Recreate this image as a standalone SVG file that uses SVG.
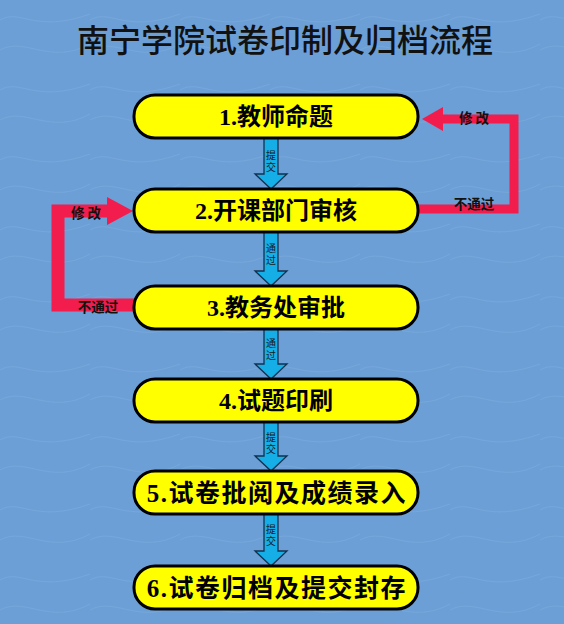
<svg xmlns="http://www.w3.org/2000/svg" width="564" height="624" viewBox="0 0 564 624">
<defs>
<style>
.bg{fill:#6c9fd6}
.node rect{fill:#ffff00;stroke:#000;stroke-width:3}
.node text{font-family:"Liberation Serif","Noto Sans CJK SC",serif;font-weight:bold;font-size:24px;fill:#000;text-anchor:middle;dominant-baseline:central}
.flow{fill:#16aee6;stroke:#14304f;stroke-width:1.3;stroke-linejoin:miter}
.flab{font-family:"Noto Sans CJK SC",sans-serif;font-size:10px;fill:#1a1a1a;writing-mode:vertical-rl;text-anchor:start;dominant-baseline:central;letter-spacing:2px}
.back{fill:none;stroke:#f21d4c;stroke-linejoin:miter}
.head{fill:#f21d4c}
.rlab{font-family:"Noto Sans CJK SC",sans-serif;font-weight:bold;font-size:13.5px;fill:#111;text-anchor:middle;dominant-baseline:central}
.title{font-family:"Noto Sans CJK SC",sans-serif;font-weight:500;font-size:32px;fill:#111;text-anchor:middle;dominant-baseline:central}
</style>
<pattern id="tex" width="90" height="70" patternUnits="userSpaceOnUse">
<path d="M0,20 C20,8 35,34 90,14 M0,50 C25,36 50,66 90,44" fill="none" stroke="#86b4e2" stroke-width="1" opacity="0.35"/>
</pattern>
</defs>
<rect class="bg" x="0" y="0" width="564" height="624"/>
<rect x="0" y="0" width="564" height="624" fill="url(#tex)"/>
<text class="title" x="285" y="38">南宁学院试卷印制及归档流程</text>

<g id="connectors">
<path class="flow" d="M264,138 L278,138 L278,174 L287,174 L271,189 L255,174 L264,174 Z"/>
<text class="flab" x="271" y="150">提交</text>
<path class="flow" d="M264,232 L278,232 L278,271 L287,271 L271,286 L255,271 L264,271 Z"/>
<text class="flab" x="271" y="243">通过</text>
<path class="flow" d="M264,329 L278,329 L278,364 L287,364 L271,379 L255,364 L264,364 Z"/>
<text class="flab" x="271" y="338">通过</text>
<path class="flow" d="M264,422 L278,422 L278,456 L287,456 L271,471 L255,456 L264,456 Z"/>
<text class="flab" x="271" y="432">提交</text>
<path class="flow" d="M264,514 L278,514 L278,551 L287,551 L271,566 L255,551 L264,551 Z"/>
<text class="flab" x="271" y="524">提交</text>

<path class="back" stroke-width="9" d="M418,209 L514,209 L514,119 L440,119"/>
<polygon class="head" points="422,119 443,107 443,131"/>
<text class="rlab" x="474" y="117">修 改</text>
<text class="rlab" x="474" y="203">不通过</text>

<path class="back" stroke-width="13" d="M134,305 L58,305 L58,211 L110,211"/>
<polygon class="head" points="133,211 107,197 107,225"/>
<text class="rlab" x="86" y="212">修 改</text>
<text class="rlab" x="98" y="306">不通过</text>
</g>

<g id="n1" class="node"><rect x="134" y="95" width="284" height="43" rx="21"/><text x="276" y="117">1.教师命题</text></g>
<g id="n2" class="node"><rect x="134" y="189" width="284" height="43" rx="21"/><text x="276" y="211">2.开课部门审核</text></g>
<g id="n3" class="node"><rect x="134" y="286" width="284" height="43" rx="21"/><text x="276" y="308">3.教务处审批</text></g>
<g id="n4" class="node"><rect x="134" y="379" width="284" height="43" rx="21"/><text x="276" y="401">4.试题印刷</text></g>
<g id="n5" class="node"><rect x="134" y="471" width="284" height="43" rx="21"/><text x="277" y="493" style="font-size:25px" letter-spacing="1.5">5.试卷批阅及成绩录入</text></g>
<g id="n6" class="node"><rect x="134" y="566" width="284" height="43" rx="21"/><text x="277" y="588" style="font-size:25px" letter-spacing="1.5">6.试卷归档及提交封存</text></g>
</svg>
